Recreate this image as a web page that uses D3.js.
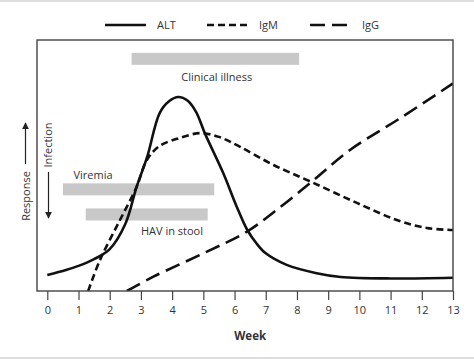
<!DOCTYPE html>
<html>
<head>
<meta charset="utf-8">
<script src="https://cdn.jsdelivr.net/npm/d3@7"></script>
<style>
  body { margin: 0; background: #fff; }
  text { font-family: "Open Sans", "Noto Sans", sans-serif; fill: #333; }
</style>
</head>
<body>
<div id="chart"></div>
<script>
// curve values (week, relative response 0-100)
var altWeeks = [0, 0.6, 1.0, 1.5, 2.0, 2.5, 2.86, 3.2, 3.6, 3.9, 4.2, 4.5, 4.77, 5.05, 5.64, 6.07, 6.4, 6.7, 7.0, 7.67, 8.63, 9.4, 11, 13];
var altValues = [6.4, 8.4, 10.0, 12.7, 16.7, 26.7, 41.4, 53.4, 70.9, 75.6, 77.3, 75.8, 71.3, 62.8, 46.9, 33.6, 24.5, 19.0, 15.0, 10.4, 7.1, 5.6, 5.0, 5.3];

var igmWeeks = [1.31, 1.69, 2.33, 2.86, 3.19, 3.6, 4.25, 4.9, 5.5, 6.18, 7.25, 8.47, 9.92, 11.2, 12.16, 13];
var igmValues = [0, 12.4, 28.3, 41.4, 52.2, 57.8, 61.0, 62.9, 61.4, 57.4, 50.2, 43.4, 35.1, 28.3, 25.1, 24.3];

var iggWeeks = [2.55, 3.4, 5.0, 6.39, 7.35, 8.47, 9.7, 11.3, 13];
var iggValues = [0, 5.7, 15.0, 23.6, 32.3, 43.5, 56.2, 68.8, 82.7];

// phases shown as grey bars [start week, end week]
var phaseNames = ["Clinical illness", "Viremia", "HAV in stool"];
var phaseStart = [2.7, 0.5, 1.23];
var phaseEnd = [8.07, 5.35, 5.14];
var phaseLevel = [92.5, 40.5, 30.5];

var tickWeeks = d3.range(0, 14);
var seriesNames = ["ALT", "IgM", "IgG"];

var width = 474, height = 359;
var margin = {top: 40, right: 21, bottom: 68, left: 37};

var svg = d3.select("#chart")
  .append("svg")
    .attr("width", width)
    .attr("height", height);

// light grey strips at the top and bottom edge
svg.append("rect").attr("x", 0).attr("y", 0).attr("width", width).attr("height", 2).attr("fill", "#ddd");
svg.append("rect").attr("x", 0).attr("y", height - 2).attr("width", width).attr("height", 2).attr("fill", "#ddd");

var x = d3.scaleLinear()
  .domain([-0.33, 13])
  .range([margin.left, width - margin.right]);

var y = d3.scaleLinear()
  .domain([0, 100])
  .range([height - margin.bottom, margin.top]);

var plotBottom = height - margin.bottom;

// clip so curves stay inside the frame
svg.append("clipPath").attr("id", "plotclip")
  .append("rect")
    .attr("x", margin.left)
    .attr("y", margin.top)
    .attr("width", width - margin.left - margin.right)
    .attr("height", plotBottom - margin.top);

// grey phase bars
var barH = 12;
svg.selectAll("rect.phase")
  .data(phaseNames)
  .enter()
  .append("rect")
    .attr("class", "phase")
    .attr("x", function(d, i) { return x(phaseStart[i]); })
    .attr("width", function(d, i) { return x(phaseEnd[i]) - x(phaseStart[i]); })
    .attr("y", function(d, i) { return y(phaseLevel[i]) - barH / 2; })
    .attr("height", barH)
    .attr("fill", "#c8c8c8");

// phase labels
svg.append("text").text(phaseNames[0])
  .attr("x", x(5.43)).attr("y", y(phaseLevel[0]) + 22)
  .attr("text-anchor", "middle").style("font-size", "11px");
svg.append("text").text(phaseNames[1])
  .attr("x", x(0.84)).attr("y", y(phaseLevel[1]) - 10)
  .style("font-size", "11px");
svg.append("text").text(phaseNames[2])
  .attr("x", x(3.0)).attr("y", y(phaseLevel[2]) + 21)
  .style("font-size", "11px");

// curves
var line = d3.line()
  .x(function(d) { return x(d[0]); })
  .y(function(d) { return y(d[1]); })
  .curve(d3.curveCatmullRom.alpha(0.5));

var curves = [
  {pts: d3.zip(altWeeks, altValues), dash: null},
  {pts: d3.zip(igmWeeks, igmValues), dash: "7,4"},
  {pts: d3.zip(iggWeeks, iggValues), dash: "15,7"}
];

svg.append("g").attr("clip-path", "url(#plotclip)")
  .selectAll("path")
  .data(curves)
  .enter()
  .append("path")
    .attr("d", function(d) { return line(d.pts); })
    .attr("fill", "none")
    .attr("stroke", "#111")
    .attr("stroke-width", 2.6)
    .attr("stroke-dasharray", function(d) { return d.dash; });

// frame
svg.append("rect")
  .attr("x", margin.left)
  .attr("y", margin.top)
  .attr("width", width - margin.left - margin.right)
  .attr("height", plotBottom - margin.top)
  .attr("fill", "none")
  .attr("stroke", "#444")
  .attr("stroke-width", 1.4);

// x axis
var xAxis = svg.append("g")
  .attr("transform", "translate(0," + plotBottom + ")")
  .call(d3.axisBottom(x).tickValues(tickWeeks).tickSize(9).tickPadding(6));
xAxis.select(".domain").remove();
xAxis.selectAll("line").attr("stroke", "#444").attr("stroke-width", 1.2);
xAxis.selectAll("text")
  .style("font-size", "11px")
  .style("font-family", "'Open Sans', sans-serif")
  .attr("fill", "#333");

svg.append("text").text("Week")
  .attr("x", x(6.5)).attr("y", 340)
  .attr("text-anchor", "middle")
  .style("font-size", "11.5px")
  .style("font-weight", "bold")
  .attr("fill", "#222");

// y side labels with arrows
svg.append("defs").append("marker")
  .attr("id", "arrow")
  .attr("viewBox", "0 0 10 10")
  .attr("refX", 9).attr("refY", 5)
  .attr("markerWidth", 7).attr("markerHeight", 7)
  .attr("markerUnits", "userSpaceOnUse")
  .attr("orient", "auto")
  .append("path")
    .attr("d", "M0,0L10,5L0,10z")
    .attr("fill", "#222");

svg.append("text").text("Response")
  .attr("transform", "translate(30,196) rotate(-90)")
  .attr("text-anchor", "middle")
  .style("font-size", "11px");
svg.append("line")
  .attr("x1", 25.5).attr("x2", 25.5).attr("y1", 164).attr("y2", 123)
  .attr("stroke", "#222").attr("stroke-width", 1.2)
  .attr("marker-end", "url(#arrow)");

svg.append("text").text("Infection")
  .attr("transform", "translate(52,145) rotate(-90)")
  .attr("text-anchor", "middle")
  .style("font-size", "11px");
svg.append("line")
  .attr("x1", 48.5).attr("x2", 48.5).attr("y1", 172).attr("y2", 218)
  .attr("stroke", "#222").attr("stroke-width", 1.2)
  .attr("marker-end", "url(#arrow)");

// legend
var legendX = [105, 207, 310];
var legend = svg.selectAll("g.legend")
  .data(seriesNames)
  .enter()
  .append("g")
    .attr("class", "legend")
    .attr("transform", function(d, i) { return "translate(" + legendX[i] + ",25)"; });
legend.append("line")
  .attr("x1", 0).attr("x2", 41).attr("y1", 0).attr("y2", 0)
  .attr("stroke", "#111").attr("stroke-width", 2.6)
  .attr("stroke-dasharray", function(d, i) { return curves[i].dash; });
legend.append("text").text(function(d) { return d; })
  .attr("x", 52).attr("y", 4)
  .style("font-size", "11px");
</script>
</body>
</html>
